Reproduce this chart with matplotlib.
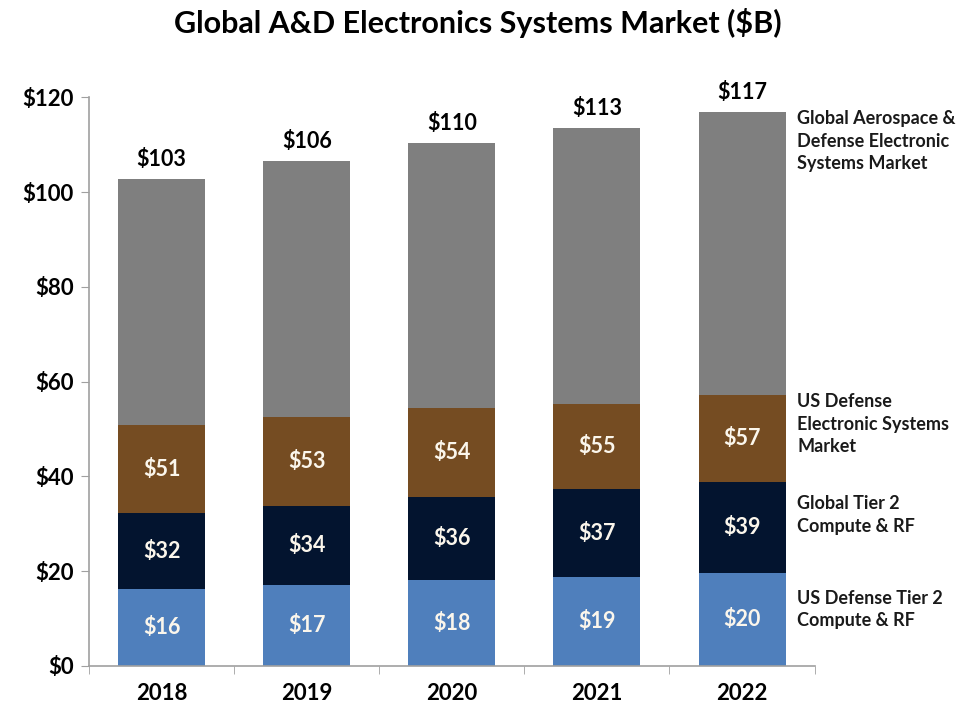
import matplotlib
matplotlib.use("Agg")
import matplotlib.pyplot as plt
import numpy as np

years = ["2018", "2019", "2020", "2021", "2022"]
global_ad = [102.7, 106.5, 110.3, 113.5, 116.9]
us_def = [50.8, 52.5, 54.4, 55.3, 57.2]
global_t2 = [32.3, 33.8, 35.7, 37.3, 38.8]
us_t2 = [16.2, 17.1, 18.1, 18.8, 19.6]

global_lbl = ["$103", "$106", "$110", "$113", "$117"]
us_def_lbl = ["$51", "$53", "$54", "$55", "$57"]
global_t2_lbl = ["$32", "$34", "$36", "$37", "$39"]
us_t2_lbl = ["$16", "$17", "$18", "$19", "$20"]

series_names = ["Global Aerospace &\nDefense Electronic\nSystems Market",
                "US Defense\nElectronic Systems\nMarket",
                "Global Tier 2\nCompute & RF",
                "US Defense Tier 2\nCompute & RF"]
colors = ["#7f7f7f", "#754c22", "#03142f", "#4f7fbc"]

plt.rcParams['font.family'] = ['Lato', 'DejaVu Sans']

fig = plt.figure(figsize=(9.7, 7.09), dpi=100)
ax = fig.add_axes([0.0918, 0.0607, 0.748, 0.802])
x = np.arange(len(years))
w = 0.6
layers = [global_ad, us_def, global_t2, us_t2]
for vals, c in zip(layers, colors):
    ax.bar(x, vals, width=w, color=c, zorder=2)

for i in range(len(years)):
    ax.text(x[i], global_ad[i] + 2.0, global_lbl[i], ha='center', va='bottom',
            fontsize=15.5, fontweight='bold', color='black')
    segs = [(us_t2[i], 0, us_t2_lbl[i]), (global_t2[i], us_t2[i], global_t2_lbl[i]),
            (us_def[i], global_t2[i], us_def_lbl[i])]
    for top, bot, lab in segs:
        ax.text(x[i], (top + bot) / 2, lab, ha='center', va='center',
                fontsize=15.5, fontweight='bold', color='#fbf6ec')

# right side labels
label_y = [117.3, 57.6, 36.1, 16.1]
for name, yy in zip(series_names, label_y):
    ax.text(4.38, yy, name, ha='left', va='top', fontsize=13,
            fontweight='bold', color='#1a1a1a', linespacing=1.4, clip_on=False)

ax.set_xlim(-0.5, 4.5)
ax.set_ylim(0, 120)
ax.set_yticks(np.arange(0, 121, 20))
ax.set_yticklabels([f"${v}" for v in range(0, 121, 20)], fontsize=16, fontweight='bold')
ax.set_xticks(x)
ax.set_xticklabels(years, fontsize=16, fontweight='bold')
ax.set_xticks(np.arange(-0.5, 4.6, 1), minor=True)
ax.tick_params(axis='x', which='major', length=0, pad=12)
ax.tick_params(axis='x', which='minor', length=6, color='#a0a0a0', direction='out')
ax.tick_params(axis='y', length=6, color='#a0a0a0', direction='out', pad=5)
for s in ['top', 'right']:
    ax.spines[s].set_visible(False)
for s in ['left', 'bottom']:
    ax.spines[s].set_color('#a0a0a0')
    ax.spines[s].set_linewidth(1.2)

fig.text(0.493, 0.968, "Global A&D Electronics Systems Market ($B)", ha='center', va='center',
         fontsize=22, fontweight='bold')

fig.savefig("out.png", dpi=100)
